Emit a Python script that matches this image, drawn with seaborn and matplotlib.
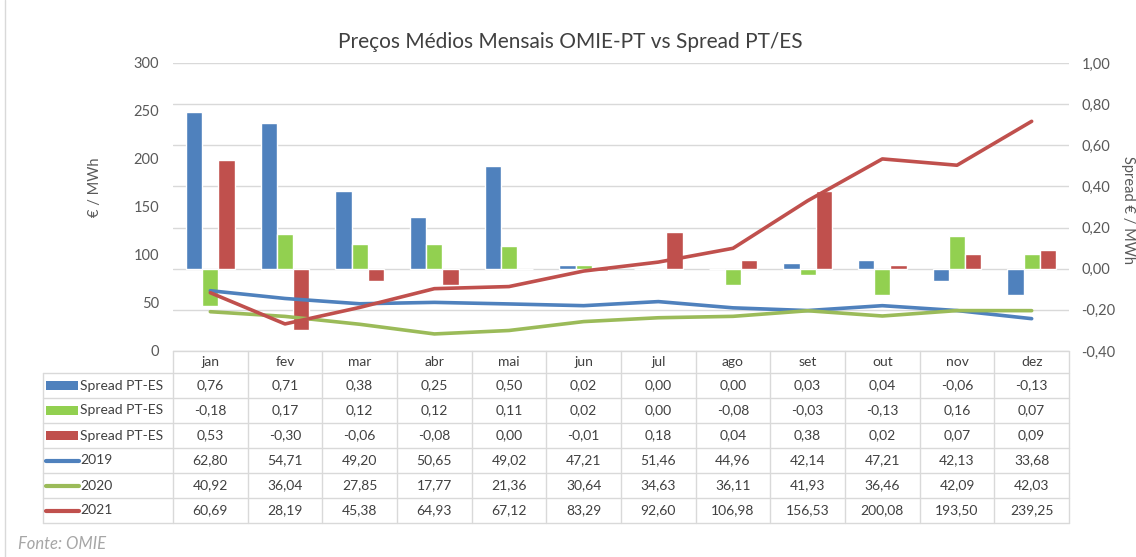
import numpy as np
import pandas as pd
import seaborn as sns
import matplotlib.pyplot as plt
from matplotlib.transforms import blended_transform_factory
from matplotlib.patches import Rectangle
from matplotlib.lines import Line2D

# data
meses = ["jan", "fev", "mar", "abr", "mai", "jun", "jul", "ago", "set", "out", "nov", "dez"]
anos = ["2019", "2020", "2021"]

spread_2019 = [0.76, 0.71, 0.38, 0.25, 0.50, 0.02, 0.00, 0.00, 0.03, 0.04, -0.06, -0.13]
spread_2020 = [-0.18, 0.17, 0.12, 0.12, 0.11, 0.02, 0.00, -0.08, -0.03, -0.13, 0.16, 0.07]
spread_2021 = [0.53, -0.30, -0.06, -0.08, 0.00, -0.01, 0.18, 0.04, 0.38, 0.02, 0.07, 0.09]

preco_2019 = [62.80, 54.71, 49.20, 50.65, 49.02, 47.21, 51.46, 44.96, 42.14, 47.21, 42.13, 33.68]
preco_2020 = [40.92, 36.04, 27.85, 17.77, 21.36, 30.64, 34.63, 36.11, 41.93, 36.46, 42.09, 42.03]
preco_2021 = [60.69, 28.19, 45.38, 64.93, 67.12, 83.29, 92.60, 106.98, 156.53, 200.08, 193.50, 239.25]

cores_barras = ["#4F81BD", "#92D050", "#C0504D"]
cores_linhas = ["#4F81BD", "#9BBB59", "#C0504D"]

spreads = [spread_2019, spread_2020, spread_2021]
precos = [preco_2019, preco_2020, preco_2021]

df_spread = pd.DataFrame({
    "mes": meses * 3,
    "ano": np.repeat(anos, 12),
    "spread": np.concatenate(spreads),
})
df_preco = pd.DataFrame({
    "pos": list(np.arange(12)) * 3,
    "ano": np.repeat(anos, 12),
    "preco": np.concatenate(precos),
})

sns.set_theme(style="white")
plt.rcParams["font.family"] = ["Lato", "DejaVu Sans"]

W, H = 1136, 557
fig = plt.figure(figsize=(W / 100, H / 100), dpi=100)
ax = fig.add_axes([173 / W, 1 - 351 / H, 896 / W, 288 / H])
ax2 = ax.twinx()

txt = "#595959"
grid_c = "#D9D9D9"

# bars on the secondary (spread) axis
sns.barplot(data=df_spread, x="mes", y="spread", hue="ano", hue_order=anos,
            palette=cores_barras, width=0.65, saturation=1, legend=False, ax=ax2,
            zorder=2)
ax2.set_ylim(-0.4, 1.0)
ax2.set_yticks(np.arange(-0.4, 1.01, 0.2))
ax2.set_yticklabels([f"{v:.2f}".replace(".", ",") for v in np.arange(-0.4, 1.01, 0.2)])
ax2.grid(axis="y", color=grid_c, lw=1, zorder=0)
ax2.set_axisbelow(True)
ax2.set_ylabel("Spread € / MWh", rotation=270, color=txt, fontsize=10.5, va="center")
ax2.yaxis.set_label_coords(1.066, 0.49)

# lines on the primary axis, drawn above the bars
ax.set_zorder(ax2.get_zorder() + 1)
ax.patch.set_visible(False)
sns.lineplot(data=df_preco, x="pos", y="preco", hue="ano", hue_order=anos,
             palette=cores_linhas, lw=2.6, sort=False, legend=False, ax=ax)
ax.set_ylim(0, 300)
ax.set_yticks(np.arange(0, 301, 50))
ax.set_ylabel("€ / MWh", color=txt, fontsize=10.5, va="center")
ax.yaxis.set_label_coords(-0.087, 0.57)

for a in (ax, ax2):
    a.set_xlim(-0.5, 11.5)
    a.set_xlabel("")
    a.set_xticks([])
    for s in a.spines.values():
        s.set_visible(False)
    a.tick_params(axis="y", length=0, labelsize=10.5, labelcolor=txt)
ax.tick_params(axis="y", pad=10)
ax2.tick_params(axis="y", pad=9)

fig.suptitle("Preços Médios Mensais OMIE-PT vs Spread PT/ES", x=570 / W, y=1 - 42 / H,
             va="center", fontsize=15, color="#404040")

# data table under the plot
tb = blended_transform_factory(ax.transData, fig.transFigure)
tf = fig.transFigure
fy = lambda p: 1 - p / H
line_c = "#D9D9D9"
row_edges = [351, 373, 398, 423, 448, 473, 498, 523]
x_left = 43 / W

for i in range(13):
    fig.add_artist(Line2D([i - 0.5, i - 0.5], [fy(351), fy(523)], transform=tb,
                          color=line_c, lw=1))
fig.add_artist(Line2D([x_left, x_left], [fy(373), fy(523)], transform=tf, color=line_c, lw=1))
fig.add_artist(Line2D([173 / W, 1069 / W], [fy(351), fy(351)], transform=tf, color=line_c, lw=1))
for r in row_edges[1:]:
    fig.add_artist(Line2D([x_left, 1069 / W], [fy(r), fy(r)], transform=tf, color=line_c, lw=1))

tcol = "#404040"
for i, m in enumerate(meses):
    fig.text(i, fy((row_edges[0] + row_edges[1]) / 2), m, transform=tb, ha="center",
             va="center", fontsize=10, color=tcol)

linhas_tabela = spreads + precos
for k, vals in enumerate(linhas_tabela):
    yc = fy((row_edges[k + 1] + row_edges[k + 2]) / 2)
    for i, v in enumerate(vals):
        fig.text(i, yc, f"{v:.2f}".replace(".", ","), transform=tb, ha="center",
                 va="center", fontsize=10, color=tcol)
    if k < 3:
        fig.add_artist(Rectangle((46 / W, yc - 4.5 / H), 32 / W, 9 / H, transform=tf,
                                 color=cores_barras[k], lw=0))
        label = "Spread PT-ES"
    else:
        fig.add_artist(Line2D([46 / W, 79 / W], [yc, yc], transform=tf,
                              color=cores_linhas[k - 3], lw=3, solid_capstyle="round"))
        label = anos[k - 3]
    fig.text(80 / W, yc, label, transform=tf, ha="left", va="center", fontsize=10, color=tcol)

fig.text(18 / W, fy(544), "Fonte: OMIE", fontsize=12, style="italic", color="#A6A6A6",
         va="center")
fig.add_artist(Line2D([5 / W, 5 / W], [0, 1], transform=tf, color="#D9D9D9", lw=1))

fig.savefig("out.png", dpi=100)
